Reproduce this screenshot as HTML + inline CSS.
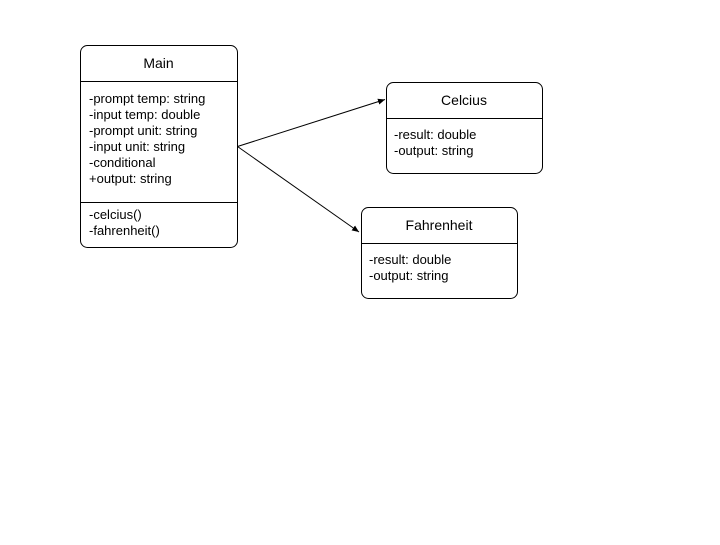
<!DOCTYPE html>
<html><head><meta charset="utf-8"><style>
html,body{margin:0;padding:0;background:#fff;}
svg text{font-family:"Liberation Sans",Arial,sans-serif;fill:#000;}
</style></head><body>
<svg width="720" height="540" viewBox="0 0 720 540" xmlns="http://www.w3.org/2000/svg">
<defs><marker id="a" markerWidth="8" markerHeight="8" refX="7" refY="4" orient="auto" markerUnits="userSpaceOnUse"><path d="M0,1 L7,4 L0,7 Z" fill="#000"/></marker></defs>
<g fill="#fff" stroke="#000" stroke-width="1">
<rect x="80.5" y="45.5" width="157" height="202" rx="7"/>
<line x1="80.5" y1="81.5" x2="237.5" y2="81.5"/>
<line x1="80.5" y1="202.5" x2="237.5" y2="202.5"/>
<rect x="386.5" y="82.5" width="156" height="91" rx="7"/>
<line x1="386.5" y1="118.5" x2="542.5" y2="118.5"/>
<rect x="361.5" y="207.5" width="156" height="91" rx="7"/>
<line x1="361.5" y1="243.5" x2="517.5" y2="243.5"/>
<line x1="237.5" y1="146.5" x2="385" y2="99.5" marker-end="url(#a)"/>
<line x1="237.5" y1="146.5" x2="359" y2="232" marker-end="url(#a)"/>
</g>
<g font-size="13">
<text x="158.5" y="68" text-anchor="middle" font-size="14">Main</text>
<text x="89" y="103">-prompt temp: string</text>
<text x="89" y="119">-input temp: double</text>
<text x="89" y="135">-prompt unit: string</text>
<text x="89" y="151">-input unit: string</text>
<text x="89" y="167">-conditional</text>
<text x="89" y="183">+output: string</text>
<text x="89" y="219">-celcius()</text>
<text x="89" y="235">-fahrenheit()</text>
<text x="464" y="105" text-anchor="middle" font-size="14">Celcius</text>
<text x="394" y="139">-result: double</text>
<text x="394" y="155">-output: string</text>
<text x="439" y="230" text-anchor="middle" font-size="14">Fahrenheit</text>
<text x="369" y="264">-result: double</text>
<text x="369" y="280">-output: string</text>
</g>
</svg>
</body></html>
